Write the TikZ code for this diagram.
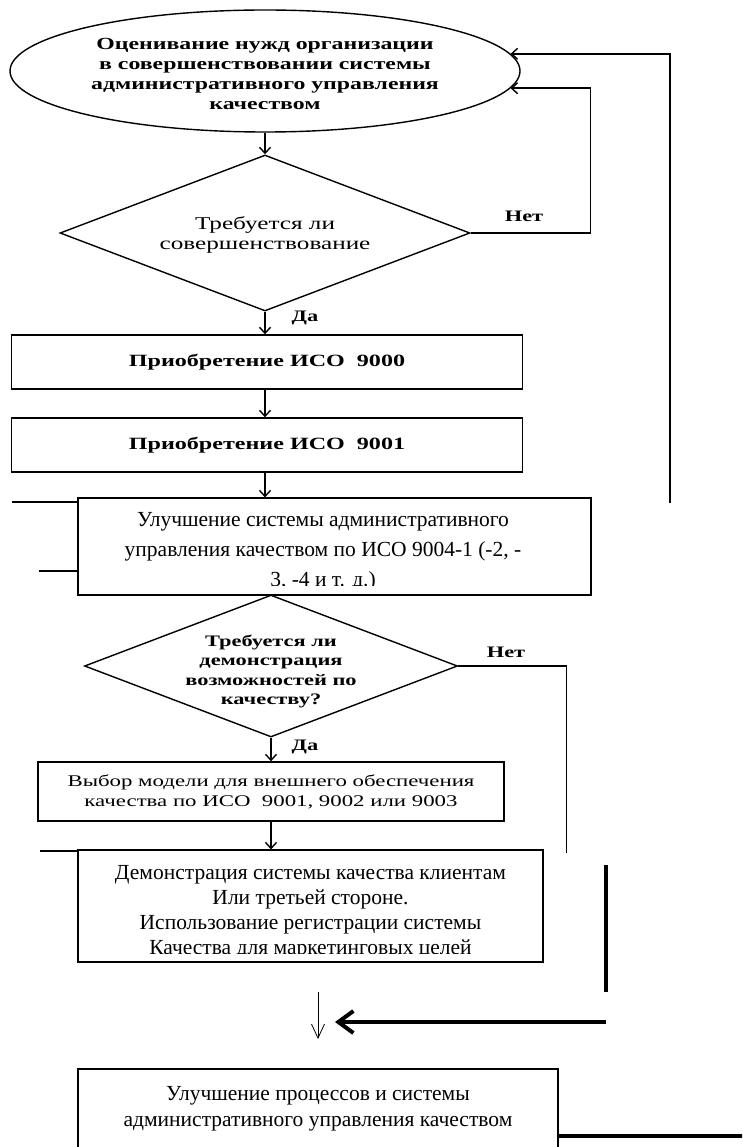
\documentclass[tikz,border=0pt]{standalone}
\usepackage{fontspec}
\setmainfont{Liberation Serif}
\newfontfamily\scanfont[FakeStretch=1.4]{Liberation Serif}
\usetikzlibrary{positioning, shapes.geometric, arrows.meta}

\tikzset{
  scan/.style={draw, line width=1.4pt, inner sep=0pt, align=center},
  typed/.style={draw, line width=1.1pt, inner sep=0pt},
  typedtext/.style={inner sep=0pt, align=center, anchor=north},
  flow/.style={line width=1.4pt, -{Straight Barb[length=6pt,width=11pt]}},
  link/.style={line width=1.4pt},
  heavy/.style={line width=4pt},
  answer/.style={font=\scanfont\bfseries\fontsize{16}{18}\selectfont},
}

\begin{document}
\begin{tikzpicture}[x=1pt, y=-1pt]
\useasboundingbox (0,0) rectangle (742,1147);
\clip (0,0) rectangle (742,1147);

% верхняя часть (скан)
\node[scan, ellipse, minimum width=510pt, minimum height=122pt,
  font=\scanfont\bfseries\fontsize{17}{20}\selectfont] (eval) at (265,71)
  {\rule{0pt}{17pt}Оценивание нужд организации\\в совершенствовании системы\\административного управления\\качеством};
\node[scan, diamond, aspect=2.6, minimum width=410pt, minimum height=156pt,
  font=\scanfont\fontsize{18}{20}\selectfont] (need) at (265,233)
  {\rule{0pt}{16pt}Требуется ли\\совершенствование};
\node[scan, minimum width=511pt, minimum height=54pt,
  font=\scanfont\bfseries\fontsize{17.2}{20}\selectfont] (buy0) at (267,362)
  {Приобретение ИСО\ \ 9000};
\node[scan, minimum width=511pt, minimum height=54pt,
  font=\scanfont\bfseries\fontsize{17.2}{20}\selectfont] (buy1) at (267,445)
  {Приобретение ИСО\ \ 9001};

% ИСО 9004
\node[typed, minimum width=513pt, minimum height=97pt] (imp) at (334.5,546.5) {};
\begin{scope}
  \clip (imp.north west) rectangle ([yshift=10pt]imp.south east);
  \node[typedtext, font=\fontsize{21.5}{30}\selectfont] (imptext) at (323,512)
    {Улучшение системы административного\\управления качеством по ИСО 9004-1 (-2, -\\3, -4 и т. д.)};
\end{scope}

\node[scan, diamond, aspect=2.6, inner xsep=-20pt, inner ysep=-10pt,
  minimum width=373pt, minimum height=142pt,
  font=\scanfont\bfseries\fontsize{16}{19.5}\selectfont] (need2) at (271,666)
  {\rule{0pt}{22pt}Требуется ли\\демонстрация\\возможностей по\\качеству?};
\node[scan, minimum width=466pt, minimum height=59pt,
  font=\scanfont\fontsize{16.3}{20}\selectfont] (choose) at (271,791.5)
  {Выбор модели для внешнего обеспечения\\качества по ИСО\ \ 9001, 9002 или 9003};

% демонстрация
\node[typed, minimum width=465pt, minimum height=112pt] (show) at (310.5,906) {};
\begin{scope}
  \clip (show.north west) rectangle ([yshift=9pt]show.south east);
  \node[typedtext, font=\fontsize{21.5}{25}\selectfont] (showtext) at (310.5,865)
    {Демонстрация системы качества клиентам\\Или третьей стороне.\\Использование регистрации системы\\Качества для маркетинговых целей};
\end{scope}

\node[typed, minimum width=480pt, minimum height=111pt] (fin) at (318,1124.5) {};
\node[typedtext, font=\fontsize{21.5}{26}\selectfont] (fintext) at (318,1086)
  {Улучшение процессов и системы\\административного управления качеством};

% подписи
\node[answer] (no1) at (524,216) {Нет};
\node[answer] (yes1) at (305,318) {Да};
\node[answer] (no2) at (506,652) {Нет};
\node[answer] (yes2) at (305,747) {Да};

% связи
\draw[flow] (eval.south) -- (need.north);
\draw[flow] (need.south) -- (need.south |- buy0.north);
\draw[flow] (need.south |- buy0.south) -- (need.south |- buy1.north);
\draw[flow] (need.south |- buy1.south) -- (need.south |- imp.north);
\draw[flow] (need.east) -| ([xshift=80pt]eval.-4) -- (eval.-4);
\coordinate (rb) at (670,503);
\draw[flow] (rb) |- (eval.4);

\coordinate (l1) at (12,502);
\coordinate (l2) at (39,571);
\coordinate (l3) at (40,851);
\draw[link] (l1) -- (l1 -| imp.west);
\draw[link] (l2) -- (l2 -| imp.west);
\draw[link] (l3) -- (l3 -| show.west);

\draw[flow] (need2.south) -- (choose.north);
\draw[flow] (choose.south) -- (choose.south |- show.north);
\coordinate (nb) at (566.5,853);
\draw[link] (need2.east) -| (nb);

% нижняя часть
\coordinate (t1) at (606,865);
\coordinate (t2) at (606,992);
\draw[heavy] (t1) -- (t2);
\coordinate (ar) at (606,1022);
\coordinate (al) at (335,1022);
\draw[heavy, -{Straight Barb[length=15pt,width=22pt]}] (ar) -- (al);
\coordinate (d1) at (318,992);
\coordinate (d2) at (318,1039);
\draw[line width=0.8pt, -{Straight Barb[length=14pt,width=13pt]}] (d1) -- (d2);
\coordinate (fr) at (746,1136);
\draw[heavy] (fr -| fin.east) -- (fr);

\end{tikzpicture}
\end{document}
